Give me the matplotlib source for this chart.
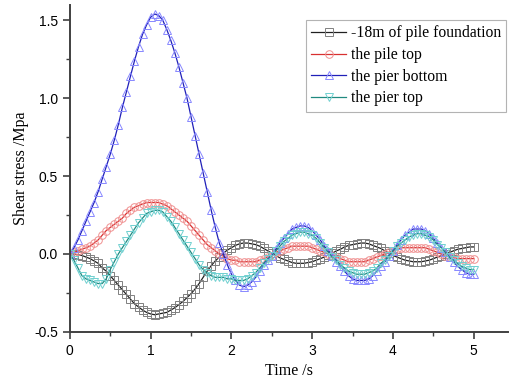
import numpy as np
import matplotlib
matplotlib.use('Agg')
import matplotlib.pyplot as plt
from matplotlib.ticker import MultipleLocator

plt.rcParams['axes.unicode_minus'] = False

# time axis (s)
time = np.round(np.arange(0, 5.001, 0.05), 2)

# shear stress (MPa), every 0.05 s
pile_18m = [0.0, 0.0, -0.005, -0.01, -0.02, -0.03, -0.045, -0.06, -0.09, -0.11,
            -0.14, -0.17, -0.20, -0.23, -0.26, -0.29, -0.32, -0.34, -0.36, -0.375,
            -0.385, -0.39, -0.385, -0.38, -0.375, -0.36, -0.345, -0.325, -0.305, -0.28,
            -0.255, -0.225, -0.19, -0.15, -0.11, -0.075, -0.045, -0.02, 0.005, 0.025,
            0.04, 0.055, 0.065, 0.07, 0.07, 0.065, 0.06, 0.05, 0.035, 0.02,
            0.005, -0.01, -0.025, -0.035, -0.045, -0.055, -0.06, -0.06, -0.06, -0.055,
            -0.05, -0.04, -0.03, -0.02, -0.005, 0.005, 0.02, 0.03, 0.045, 0.055,
            0.06, 0.065, 0.07, 0.07, 0.065, 0.055, 0.045, 0.035, 0.02, 0.005,
            -0.01, -0.02, -0.03, -0.04, -0.045, -0.05, -0.05, -0.05, -0.045, -0.04,
            -0.03, -0.02, -0.01, 0.0, 0.01, 0.02, 0.03, 0.035, 0.04, 0.045,
            0.045]

pile_top = [0.0, 0.01, 0.02, 0.03, 0.04, 0.05, 0.07, 0.09, 0.12, 0.15,
            0.17, 0.19, 0.21, 0.23, 0.26, 0.28, 0.30, 0.31, 0.32, 0.33,
            0.33, 0.33, 0.33, 0.32, 0.31, 0.29, 0.27, 0.25, 0.23, 0.21,
            0.18, 0.15, 0.12, 0.09, 0.06, 0.04, 0.02, 0.0, -0.01, -0.03,
            -0.04, -0.04, -0.05, -0.05, -0.05, -0.05, -0.05, -0.04, -0.03, -0.02,
            -0.01, 0.01, 0.02, 0.03, 0.04, 0.05, 0.05, 0.05, 0.05, 0.05,
            0.04, 0.03, 0.02, 0.01, 0.0, -0.01, -0.02, -0.03, -0.04, -0.05,
            -0.05, -0.05, -0.05, -0.05, -0.04, -0.03, -0.02, -0.01, 0.0, 0.01,
            0.02, 0.03, 0.04, 0.04, 0.04, 0.04, 0.04, 0.04, 0.04, 0.03,
            0.02, 0.01, 0.0, -0.01, -0.02, -0.02, -0.03, -0.03, -0.03, -0.03,
            -0.03]

pier_bottom = [0.0, 0.04, 0.09, 0.15, 0.21, 0.27, 0.33, 0.40, 0.48, 0.56,
               0.64, 0.73, 0.83, 0.94, 1.04, 1.14, 1.24, 1.33, 1.41, 1.47,
               1.52, 1.54, 1.53, 1.50, 1.44, 1.37, 1.29, 1.20, 1.10, 1.00,
               0.88, 0.76, 0.64, 0.52, 0.40, 0.28, 0.17, 0.07, 0.0, -0.07,
               -0.13, -0.17, -0.20, -0.21, -0.20, -0.18, -0.15, -0.11, -0.07, -0.04,
               -0.01, 0.03, 0.07, 0.10, 0.13, 0.16, 0.17, 0.18, 0.18, 0.17,
               0.15, 0.12, 0.09, 0.05, 0.02, -0.01, -0.05, -0.08, -0.11, -0.14,
               -0.16, -0.17, -0.17, -0.17, -0.16, -0.14, -0.11, -0.08, -0.05, -0.01,
               0.02, 0.06, 0.09, 0.12, 0.14, 0.16, 0.16, 0.16, 0.15, 0.13,
               0.10, 0.07, 0.04, 0.01, -0.02, -0.05, -0.08, -0.10, -0.12, -0.13,
               -0.13]

pier_top = [0.0, -0.04, -0.09, -0.14, -0.16, -0.17, -0.18, -0.19, -0.19, -0.16,
            -0.10, -0.05, 0.0, 0.04, 0.08, 0.12, 0.16, 0.20, 0.23, 0.26,
            0.27, 0.28, 0.28, 0.27, 0.24, 0.21, 0.17, 0.13, 0.09, 0.05,
            0.01, -0.03, -0.07, -0.10, -0.12, -0.14, -0.15, -0.15, -0.15, -0.16,
            -0.16, -0.17, -0.17, -0.17, -0.16, -0.14, -0.12, -0.09, -0.06, -0.03,
            -0.01, 0.02, 0.05, 0.08, 0.10, 0.12, 0.13, 0.14, 0.14, 0.13,
            0.12, 0.10, 0.07, 0.04, 0.01, -0.02, -0.04, -0.07, -0.09, -0.11,
            -0.12, -0.13, -0.13, -0.13, -0.12, -0.11, -0.09, -0.06, -0.04, -0.01,
            0.02, 0.05, 0.07, 0.09, 0.11, 0.12, 0.13, 0.13, 0.12, 0.11,
            0.09, 0.06, 0.04, 0.01, -0.02, -0.04, -0.06, -0.08, -0.09, -0.10,
            -0.10]

labels = ['-18m of pile foundation', 'the pile top', 'the pier bottom', 'the pier top']

series = [
    (pile_18m, 's', '#202020', '#808080'),
    (pile_top, 'o', '#d83030', '#f09090'),
    (pier_bottom, '^', '#2020b8', '#8888ff'),
    (pier_top, 'v', '#208a80', '#70d0d0'),
]

fig = plt.figure(figsize=(5.1, 3.85), dpi=100)
ax = fig.add_axes([0.137, 0.138, 0.86, 0.85])

for (vals, mk, lc, mc), lab in zip(series, labels):
    ax.plot(time, vals, color=lc, lw=0.9, marker=mk, markersize=5.5,
            markerfacecolor='none', markeredgecolor=mc, markeredgewidth=0.7,
            label=lab)

ax.set_xlim(0, 5.43)
ax.set_ylim(-0.5, 1.6)
ax.xaxis.set_major_locator(MultipleLocator(1))
ax.xaxis.set_minor_locator(MultipleLocator(0.5))
ax.yaxis.set_major_locator(MultipleLocator(0.5))
ax.yaxis.set_minor_locator(MultipleLocator(0.25))

for s in ['top', 'right']:
    ax.spines[s].set_visible(False)
for s in ['left', 'bottom']:
    ax.spines[s].set_color('#404040')
    ax.spines[s].set_linewidth(1.4)

ax.tick_params(which='major', direction='out', length=5, width=1.2, color='#404040',
               labelsize=10)
ax.tick_params(which='minor', direction='out', length=3, width=1.0, color='#404040')
for t in ax.get_xticklabels() + ax.get_yticklabels():
    t.set_fontfamily('Liberation Sans')

ax.set_xlabel('Time /s', fontfamily='Liberation Serif', fontsize=11.5)
ax.set_ylabel('Shear stress /Mpa', fontfamily='Liberation Serif', fontsize=11.5)

leg = ax.legend(loc='upper left', bbox_to_anchor=(306 / 510, 1 - 20 / 385),
                bbox_transform=fig.transFigure,
                prop={'family': 'Liberation Serif', 'size': 11.3},
                frameon=True, fancybox=False, handlelength=2.2,
                handletextpad=0.3, borderpad=0.35, labelspacing=0.36,
                borderaxespad=0)
leg.get_frame().set_edgecolor('#a0a0a0')
leg.get_frame().set_linewidth(0.8)

fig.savefig('out.png', dpi=100)
